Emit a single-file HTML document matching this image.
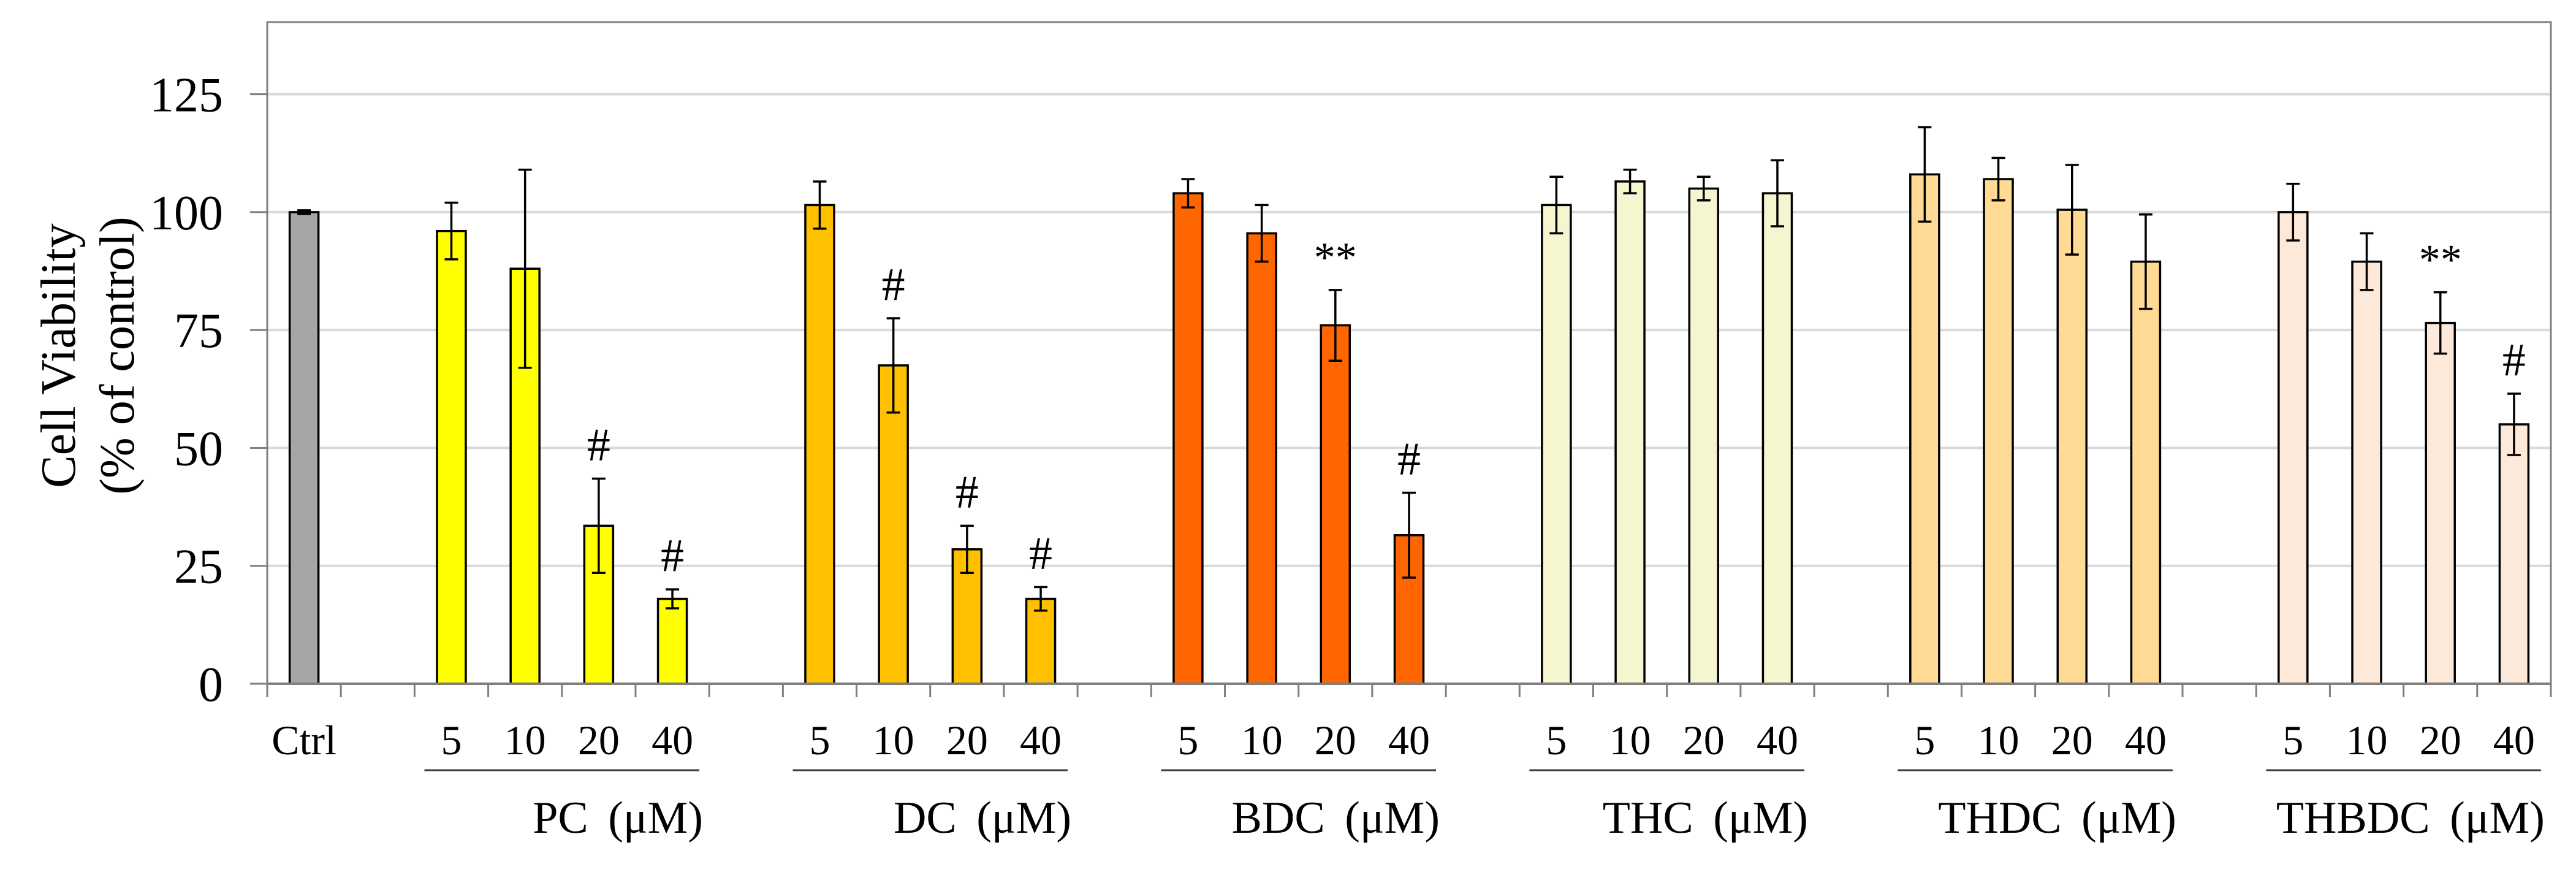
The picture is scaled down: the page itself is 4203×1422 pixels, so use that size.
<!DOCTYPE html>
<html><head><meta charset="utf-8"><style>
html,body{margin:0;padding:0;background:#fff;}
svg{display:block;font-family:"Liberation Serif","Times New Roman",serif;}
</style></head><body>
<svg id="chart" width="4203" height="1422" viewBox="0 0 4203 1422" xmlns="http://www.w3.org/2000/svg"></svg>
<script>
const groupNames = ["PC (μM)","DC (μM)","BDC (μM)","THC (μM)","THDC (μM)","THBDC (μM)"];
const doses = ["5","10","20","40"];
const ctrlValue = 100;
const ctrlError = 0.4;
const pcValues = [96, 88, 33.5, 18];
const pcErrors = [6, 21, 10, 2];
const dcValues = [101.5, 67.5, 28.5, 18];
const dcErrors = [5, 10, 5, 2.5];
const bdcValues = [104, 95.5, 76, 31.5];
const bdcErrors = [3, 6, 7.5, 9];
const thcValues = [101.5, 106.5, 105, 104];
const thcErrors = [6, 2.5, 2.5, 7];
const thdcValues = [108, 107, 100.5, 89.5];
const thdcErrors = [10, 4.5, 9.5, 10];
const thbdcValues = [100, 89.5, 76.5, 55];
const thbdcErrors = [6, 6, 6.5, 6.5];
const pcMarks = ["", "", "#", "#"];
const dcMarks = ["", "#", "#", "#"];
const bdcMarks = ["", "", "**", "#"];
const thcMarks = ["", "", "", ""];
const thdcMarks = ["", "", "", ""];
const thbdcMarks = ["", "", "**", "#"];
const yTicks = [0, 25, 50, 75, 100, 125];

const groupValues = [pcValues, dcValues, bdcValues, thcValues, thdcValues, thbdcValues];
const groupErrors = [pcErrors, dcErrors, bdcErrors, thcErrors, thdcErrors, thbdcErrors];
const groupMarks = [pcMarks, dcMarks, bdcMarks, thcMarks, thdcMarks, thbdcMarks];
const groupColors = ["#ffff00","#ffc000","#ff6600","#f5f5cf","#ffda95","#fde9da"];

const svg = document.getElementById('chart');
const NS = "http://www.w3.org/2000/svg";
const L = 436, R = 4162, T = 36, B = 1115, YMAX = 140.3;
const nSlots = 31, slotW = (R - L) / nSlots, barW = 47;
function y(v){ return B - v / YMAX * (B - T); }
function xc(slot){ return L + slotW * (slot + 0.5); }
function mk(tag, attrs, parent){
  const e = document.createElementNS(NS, tag);
  for (const k in attrs) e.setAttribute(k, attrs[k]);
  (parent || svg).appendChild(e);
  return e;
}

yTicks.forEach(t => {
  if (t === 0) return;
  const g = mk('line', {x1:L, x2:R, y1:y(t), y2:y(t), stroke:'#d9d9d9', 'stroke-width':4});
  
  
});
const border = mk('rect', {x:L, y:T, width:R-L, height:B-T, fill:'none', stroke:'#7f7f7f', 'stroke-width':3});



yTicks.forEach(t => {
  const tx = mk('text', {x:364, y:y(t)+28, 'text-anchor':'end', 'font-size':80, fill:'#000'});
  tx.textContent = t;
  
  
  const tk = mk('line', {x1:L-28, x2:L, y1:y(t), y2:y(t), stroke:'#7f7f7f', 'stroke-width':3});
  
  
});

const yt = mk('text', {transform:'translate(122,580) rotate(-90)', 'text-anchor':'middle', 'font-size':80, fill:'#000'});


const t1 = mk('tspan', {x:0, y:0}, yt); t1.textContent = 'Cell Viability';
const t2 = mk('tspan', {x:0, y:96}, yt); t2.textContent = '(% of control)';

function drawBar(slot, v, err, color, mark, name){
  const cx = xc(slot);
  const r = mk('rect', {x:cx-barW/2, y:y(v), width:barW, height:B-y(v), fill:color, stroke:'#000', 'stroke-width':3.5});
  
  
  const eb = mk('path', {d:`M${cx},${y(v+err)}V${y(v-err)}M${cx-11},${y(v+err)}H${cx+11}M${cx-11},${y(v-err)}H${cx+11}`, stroke:'#000', 'stroke-width':3.5, fill:'none'});
  
  
  if (mark){
    const m = mk('text', {x:cx, y:y(v+err)-30, 'text-anchor':'middle', 'font-size':mark==='#'?76:70, fill:'#000'});
    m.textContent = mark;
    
    
  }
}

drawBar(0, ctrlValue, ctrlError, '#a6a6a6', '', 'ctrl');
const ctl = mk('text', {x:xc(0), y:1230, 'text-anchor':'middle', 'font-size':68, fill:'#000'});
ctl.textContent = 'Ctrl';



groupNames.forEach((gn, g) => {
  const base = 2 + g * 5;
  doses.forEach((d, i) => {
    const slot = base + i;
    drawBar(slot, groupValues[g][i], groupErrors[g][i], groupColors[g], groupMarks[g][i], gn.split(' ')[0].toLowerCase() + '-' + d);
    const dl = mk('text', {x:xc(slot), y:1230, 'text-anchor':'middle', 'font-size':68, fill:'#000'});
    dl.textContent = d;
    
    
  });
  const x1 = xc(base) - 44, x2 = xc(base+3) + 44;
  const ul = mk('line', {x1:x1, x2:x2, y1:1256, y2:1256, stroke:'#404040', 'stroke-width':3});
  
  
  const gl = mk('text', {x:x2+6, y:1358, 'text-anchor':'end', 'font-size':74, 'word-spacing':14, fill:'#000'});
  gl.textContent = gn;
  
  
});

const xa = mk('line', {x1:L, x2:R, y1:B, y2:B, stroke:'#7f7f7f', 'stroke-width':4});


for (let i = 0; i <= nSlots; i++){
  const tk = mk('line', {x1:L+slotW*i, x2:L+slotW*i, y1:B, y2:B+22, stroke:'#7f7f7f', 'stroke-width':3});
  
  
}
</script>
</body></html>
